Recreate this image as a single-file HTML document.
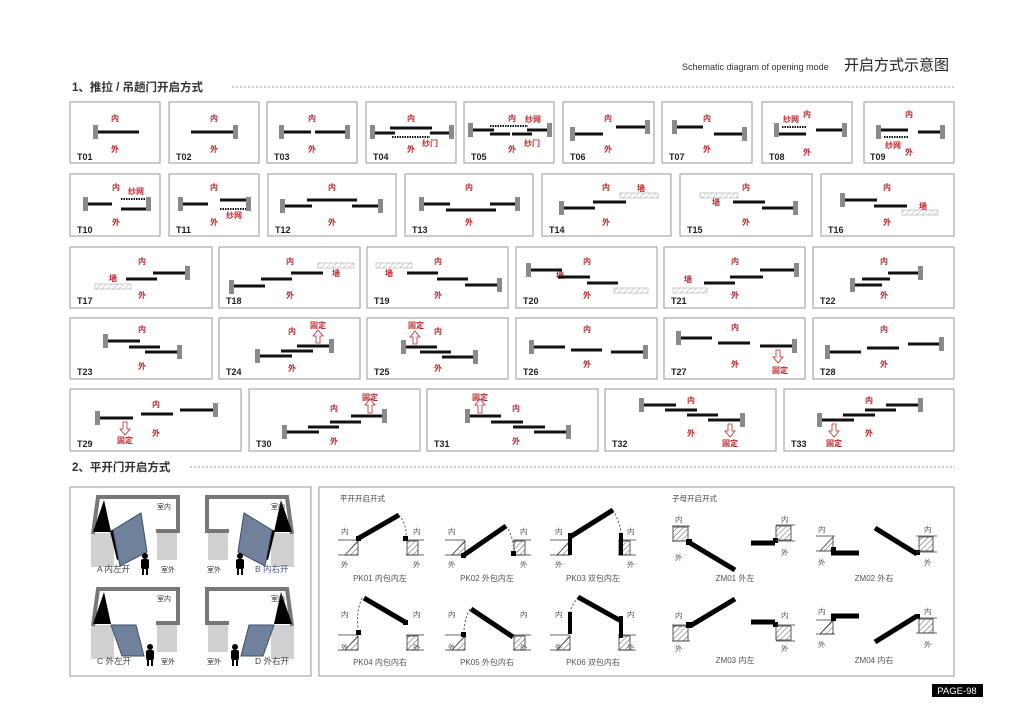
<!DOCTYPE html>
<html><head><meta charset="utf-8"><style>
html,body{margin:0;padding:0;background:#fff;width:1028px;height:726px;overflow:hidden}
svg{display:block;font-family:"Liberation Sans","Noto Sans CJK SC",sans-serif}
.b{fill:#fff;stroke:#9a9a9a;stroke-width:1}
.t{font-size:9px;font-weight:bold;fill:#222}
.r{font-size:8px;font-weight:bold;fill:#c0272d;text-anchor:middle}
.w{fill:#8a8a8a}
.l{stroke:#111;stroke-width:3}
.h{fill:url(#hp);stroke:#aaa;stroke-width:.6}
.g{font-size:8px;fill:#555;text-anchor:middle}
.s{font-size:7.5px;fill:#444}
.d{stroke:#000;stroke-width:5}
.dt{fill:none;stroke:#555;stroke-width:1;stroke-dasharray:2 2}
.hb{fill:url(#hp2);stroke:#333;stroke-width:.8}
</style></head><body>
<svg width="1028" height="726" viewBox="0 0 1028 726">
<defs>
<pattern id="hp" width="4" height="4" patternUnits="userSpaceOnUse" patternTransform="rotate(45)"><line x1="0" y1="0" x2="0" y2="4" stroke="#aaa" stroke-width="1"/></pattern>
<pattern id="hp2" width="4" height="4" patternUnits="userSpaceOnUse" patternTransform="rotate(45)"><line x1="0" y1="0" x2="0" y2="4" stroke="#333" stroke-width="0.8"/></pattern>
</defs>
<text x="682" y="70" font-size="9" fill="#333">Schematic diagram of opening mode</text>
<text x="844" y="70" font-size="15" fill="#222">开启方式示意图</text>
<text x="72" y="91" font-size="11.5" font-weight="bold" fill="#333">1、推拉 / 吊趟门开启方式</text>
<line x1="232" y1="87" x2="955" y2="87" stroke="#999" stroke-dasharray="2 2"/>

<!-- Row 1 -->
<g>
<rect class="b" x="70" y="102" width="90" height="61"/><rect class="b" x="169" y="102" width="90" height="61"/><rect class="b" x="267" y="102" width="90" height="61"/><rect class="b" x="366" y="102" width="90" height="61"/><rect class="b" x="464" y="102" width="90" height="61"/><rect class="b" x="563" y="102" width="91" height="61"/><rect class="b" x="662" y="102" width="90" height="61"/><rect class="b" x="762" y="102" width="90" height="61"/><rect class="b" x="864" y="102" width="90" height="61"/>
<text class="t" x="77" y="160">T01</text><text class="t" x="176" y="160">T02</text><text class="t" x="274" y="160">T03</text><text class="t" x="373" y="160">T04</text><text class="t" x="471" y="160">T05</text><text class="t" x="570" y="160">T06</text><text class="t" x="669" y="160">T07</text><text class="t" x="769" y="160">T08</text><text class="t" x="870" y="160">T09</text>
<text class="r" x="115" y="121">内</text><text class="r" x="115" y="152">外</text>
<text class="r" x="214" y="121">内</text><text class="r" x="214" y="152">外</text>
<text class="r" x="312" y="121">内</text><text class="r" x="312" y="152">外</text>
<text class="r" x="411" y="121">内</text><text class="r" x="411" y="152">外</text><text class="r" x="430" y="146">纱门</text>
<text class="r" x="512" y="121">内</text><text class="r" x="512" y="152">外</text><text class="r" x="533" y="122">纱网</text><text class="r" x="532" y="146">纱门</text>
<text class="r" x="608" y="121">内</text><text class="r" x="608" y="152">外</text>
<text class="r" x="707" y="121">内</text><text class="r" x="707" y="152">外</text>
<text class="r" x="807" y="117">内</text><text class="r" x="807" y="155">外</text><text class="r" x="791" y="122">纱网</text>
<text class="r" x="909" y="117">内</text><text class="r" x="909" y="155">外</text><text class="r" x="893" y="148">纱网</text>
<rect class="w" x="93" y="125" width="5" height="14"/><line class="l" x1="98" y1="132" x2="139" y2="132"/>
<rect class="w" x="233" y="125" width="5" height="14"/><line class="l" x1="191" y1="132" x2="233" y2="132"/>
<rect class="w" x="279" y="125" width="5" height="14"/><rect class="w" x="345" y="125" width="5" height="14"/><line class="l" x1="284" y1="132" x2="311" y2="132"/><line class="l" x1="315" y1="132" x2="345" y2="132"/>
<rect class="w" x="370" y="125" width="5" height="14"/><rect class="w" x="449" y="125" width="5" height="14"/><line class="l" x1="375" y1="133" x2="395" y2="133"/><line class="l" x1="390" y1="128" x2="412" y2="128"/><line class="l" x1="412" y1="128" x2="432" y2="128"/><line class="l" x1="430" y1="133" x2="449" y2="133"/><line x1="392" y1="137" x2="430" y2="137" stroke="#111" stroke-width="2" stroke-dasharray="1.5 1"/>
<rect class="w" x="468" y="123" width="5" height="14"/><rect class="w" x="547" y="123" width="5" height="14"/><line class="l" x1="473" y1="130" x2="494" y2="130"/><line x1="490" y1="126" x2="528" y2="126" stroke="#111" stroke-width="2" stroke-dasharray="1.5 1"/><line class="l" x1="490" y1="134" x2="510" y2="134"/><line class="l" x1="512" y1="134" x2="532" y2="134"/><line class="l" x1="527" y1="130" x2="547" y2="130"/>
<rect class="w" x="570" y="127" width="5" height="14"/><line class="l" x1="575" y1="134" x2="603" y2="134"/><rect class="w" x="645" y="120" width="5" height="14"/><line class="l" x1="616" y1="127" x2="645" y2="127"/>
<rect class="w" x="672" y="120" width="5" height="14"/><line class="l" x1="677" y1="127" x2="703" y2="127"/><rect class="w" x="742" y="127" width="5" height="14"/><line class="l" x1="714" y1="134" x2="742" y2="134"/>
<rect class="w" x="774" y="123" width="5" height="14"/><line class="l" x1="779" y1="134" x2="806" y2="134"/><line x1="782" y1="127" x2="806" y2="127" stroke="#111" stroke-width="2" stroke-dasharray="1.5 1"/><rect class="w" x="842" y="123" width="5" height="14"/><line class="l" x1="816" y1="130" x2="842" y2="130"/>
<rect class="w" x="876" y="125" width="5" height="14"/><line class="l" x1="881" y1="130" x2="908" y2="130"/><line x1="884" y1="137" x2="908" y2="137" stroke="#111" stroke-width="2" stroke-dasharray="1.5 1"/><rect class="w" x="940" y="125" width="5" height="14"/><line class="l" x1="918" y1="132" x2="940" y2="132"/>
</g>

<!-- Row 2 -->
<g>
<rect class="b" x="70" y="174" width="90" height="62"/><rect class="b" x="169" y="174" width="90" height="62"/><rect class="b" x="268" y="174" width="128" height="62"/><rect class="b" x="405" y="174" width="128" height="62"/><rect class="b" x="542" y="174" width="129" height="62"/><rect class="b" x="680" y="174" width="132" height="62"/><rect class="b" x="821" y="174" width="133" height="62"/>
<text class="t" x="77" y="233">T10</text><text class="t" x="176" y="233">T11</text><text class="t" x="275" y="233">T12</text><text class="t" x="412" y="233">T13</text><text class="t" x="549" y="233">T14</text><text class="t" x="687" y="233">T15</text><text class="t" x="828" y="233">T16</text>
<text class="r" x="116" y="190">内</text><text class="r" x="116" y="225">外</text><text class="r" x="136" y="194">纱网</text>
<text class="r" x="214" y="190">内</text><text class="r" x="214" y="225">外</text><text class="r" x="234" y="218">纱网</text>
<text class="r" x="332" y="190">内</text><text class="r" x="332" y="225">外</text>
<text class="r" x="469" y="190">内</text><text class="r" x="469" y="225">外</text>
<text class="r" x="606" y="190">内</text><text class="r" x="606" y="225">外</text><text class="r" x="641" y="191">墙</text>
<text class="r" x="746" y="190">内</text><text class="r" x="746" y="225">外</text><text class="r" x="716" y="205">墙</text>
<text class="r" x="887" y="190">内</text><text class="r" x="887" y="225">外</text><text class="r" x="923" y="209">墙</text>
<rect class="w" x="83" y="197" width="5" height="14"/><line class="l" x1="88" y1="204" x2="112" y2="204"/><line x1="121" y1="199" x2="146" y2="199" stroke="#111" stroke-width="2" stroke-dasharray="1.5 1"/><line class="l" x1="121" y1="209" x2="146" y2="209"/><rect class="w" x="146" y="197" width="5" height="14"/>
<rect class="w" x="178" y="197" width="5" height="14"/><line class="l" x1="183" y1="204" x2="208" y2="204"/><line class="l" x1="220" y1="200" x2="246" y2="200"/><line x1="220" y1="209" x2="246" y2="209" stroke="#111" stroke-width="2" stroke-dasharray="1.5 1"/><rect class="w" x="246" y="197" width="5" height="14"/>
<rect class="w" x="280" y="199" width="5" height="14"/><line class="l" x1="285" y1="206" x2="312" y2="206"/><line class="l" x1="307" y1="200" x2="357" y2="200"/><line class="l" x1="352" y1="206" x2="378" y2="206"/><rect class="w" x="378" y="199" width="5" height="14"/>
<rect class="w" x="419" y="197" width="5" height="14"/><line class="l" x1="424" y1="204" x2="450" y2="204"/><line class="l" x1="446" y1="210" x2="496" y2="210"/><line class="l" x1="490" y1="204" x2="515" y2="204"/><rect class="w" x="515" y="197" width="5" height="14"/>
<rect class="w" x="559" y="201" width="5" height="14"/><line class="l" x1="564" y1="208" x2="595" y2="208"/><line class="l" x1="593" y1="202" x2="626" y2="202"/><rect class="h" x="620" y="193" width="38" height="5"/>
<rect class="h" x="700" y="193" width="38" height="5"/><line class="l" x1="733" y1="202" x2="765" y2="202"/><line class="l" x1="762" y1="208" x2="793" y2="208"/><rect class="w" x="793" y="201" width="5" height="14"/>
<rect class="w" x="840" y="193" width="5" height="14"/><line class="l" x1="845" y1="200" x2="877" y2="200"/><line class="l" x1="874" y1="206" x2="907" y2="206"/><rect class="h" x="902" y="210" width="36" height="5"/>
</g>

<!-- Row 3 -->
<g>
<rect class="b" x="70" y="247" width="142" height="61"/><rect class="b" x="219" y="247" width="141" height="61"/><rect class="b" x="367" y="247" width="141" height="61"/><rect class="b" x="516" y="247" width="141" height="61"/><rect class="b" x="664" y="247" width="141" height="61"/><rect class="b" x="813" y="247" width="141" height="61"/>
<text class="t" x="77" y="304">T17</text><text class="t" x="226" y="304">T18</text><text class="t" x="374" y="304">T19</text><text class="t" x="523" y="304">T20</text><text class="t" x="671" y="304">T21</text><text class="t" x="820" y="304">T22</text>
<text class="r" x="142" y="264">内</text><text class="r" x="142" y="298">外</text><text class="r" x="113" y="281">墙</text>
<text class="r" x="290" y="264">内</text><text class="r" x="290" y="298">外</text><text class="r" x="336" y="276">墙</text>
<text class="r" x="438" y="264">内</text><text class="r" x="438" y="298">外</text><text class="r" x="389" y="276">墙</text>
<text class="r" x="587" y="264">内</text><text class="r" x="587" y="298">外</text><text class="r" x="560" y="278">墙</text>
<text class="r" x="735" y="264">内</text><text class="r" x="735" y="298">外</text><text class="r" x="688" y="282">墙</text>
<text class="r" x="884" y="264">内</text><text class="r" x="884" y="298">外</text>
<rect class="h" x="95" y="284" width="36" height="5"/><line class="l" x1="126" y1="279" x2="157" y2="279"/><line class="l" x1="153" y1="273" x2="185" y2="273"/><rect class="w" x="185" y="266" width="5" height="14"/>
<rect class="w" x="229" y="280" width="5" height="14"/><line class="l" x1="234" y1="286" x2="265" y2="286"/><line class="l" x1="261" y1="279" x2="292" y2="279"/><line class="l" x1="291" y1="273" x2="323" y2="273"/><rect class="h" x="318" y="263" width="36" height="5"/>
<rect class="h" x="376" y="263" width="36" height="5"/><line class="l" x1="407" y1="273" x2="438" y2="273"/><line class="l" x1="437" y1="279" x2="468" y2="279"/><line class="l" x1="465" y1="285" x2="497" y2="285"/><rect class="w" x="497" y="278" width="5" height="14"/>
<rect class="w" x="526" y="263" width="5" height="14"/><line class="l" x1="531" y1="270" x2="562" y2="270"/><line class="l" x1="558" y1="277" x2="590" y2="277"/><line class="l" x1="587" y1="283" x2="618" y2="283"/><rect class="h" x="614" y="288" width="34" height="5"/>
<rect class="h" x="673" y="288" width="34" height="5"/><line class="l" x1="704" y1="283" x2="735" y2="283"/><line class="l" x1="730" y1="277" x2="763" y2="277"/><line class="l" x1="760" y1="270" x2="794" y2="270"/><rect class="w" x="794" y="263" width="5" height="14"/>
<rect class="w" x="850" y="278" width="5" height="14"/><line class="l" x1="855" y1="285" x2="882" y2="285"/><line class="l" x1="862" y1="279" x2="890" y2="279"/><line class="l" x1="888" y1="273" x2="918" y2="273"/><rect class="w" x="918" y="266" width="5" height="14"/>
</g>

<!-- Row 4 -->
<g>
<rect class="b" x="70" y="318" width="142" height="61"/><rect class="b" x="219" y="318" width="141" height="61"/><rect class="b" x="367" y="318" width="141" height="61"/><rect class="b" x="516" y="318" width="141" height="61"/><rect class="b" x="664" y="318" width="141" height="61"/><rect class="b" x="813" y="318" width="141" height="61"/>
<text class="t" x="77" y="375">T23</text><text class="t" x="226" y="375">T24</text><text class="t" x="374" y="375">T25</text><text class="t" x="523" y="375">T26</text><text class="t" x="671" y="375">T27</text><text class="t" x="820" y="375">T28</text>
<text class="r" x="142" y="332">内</text><text class="r" x="142" y="369">外</text>
<text class="r" x="292" y="334">内</text><text class="r" x="292" y="371">外</text><text class="r" x="318" y="328">固定</text>
<text class="r" x="438" y="334">内</text><text class="r" x="438" y="371">外</text><text class="r" x="416" y="328">固定</text>
<text class="r" x="587" y="332">内</text><text class="r" x="587" y="367">外</text>
<text class="r" x="735" y="330">内</text><text class="r" x="735" y="367">外</text><text class="r" x="780" y="373">固定</text>
<text class="r" x="884" y="332">内</text><text class="r" x="884" y="367">外</text>
<rect class="w" x="103" y="334" width="5" height="14"/><line class="l" x1="108" y1="341" x2="140" y2="341"/><line class="l" x1="129" y1="347" x2="160" y2="347"/><line class="l" x1="145" y1="352" x2="177" y2="352"/><rect class="w" x="177" y="345" width="5" height="14"/>
<rect class="w" x="255" y="349" width="5" height="14"/><line class="l" x1="260" y1="356" x2="292" y2="356"/><line class="l" x1="281" y1="351" x2="313" y2="351"/><line class="l" x1="297" y1="346" x2="329" y2="346"/><rect class="w" x="329" y="339" width="5" height="14"/><path d="M316 343V336h-3l5-6 5 6h-3v7z" fill="#fff" stroke="#c0272d" stroke-width=".8"/>
<rect class="w" x="401" y="340" width="5" height="14"/><line class="l" x1="406" y1="347" x2="437" y2="347"/><line class="l" x1="420" y1="352" x2="451" y2="352"/><line class="l" x1="442" y1="357" x2="473" y2="357"/><rect class="w" x="473" y="350" width="5" height="14"/><path d="M413 344V337h-3l5-6 5 6h-3v7z" fill="#fff" stroke="#c0272d" stroke-width=".8"/>
<rect class="w" x="529" y="340" width="5" height="14"/><line class="l" x1="534" y1="347" x2="565" y2="347"/><line class="l" x1="571" y1="350" x2="602" y2="350"/><line class="l" x1="611" y1="352" x2="643" y2="352"/><rect class="w" x="643" y="345" width="5" height="14"/>
<rect class="w" x="676" y="331" width="5" height="14"/><line class="l" x1="681" y1="338" x2="712" y2="338"/><line class="l" x1="718" y1="343" x2="750" y2="343"/><line class="l" x1="760" y1="346" x2="792" y2="346"/><rect class="w" x="792" y="339" width="5" height="14"/><path d="M776 350V357h-3l5 6 5-6h-3v-7z" fill="#fff" stroke="#c0272d" stroke-width=".8"/>
<rect class="w" x="825" y="345" width="5" height="14"/><line class="l" x1="830" y1="352" x2="861" y2="352"/><line class="l" x1="867" y1="348" x2="899" y2="348"/><line class="l" x1="908" y1="344" x2="939" y2="344"/><rect class="w" x="939" y="337" width="5" height="14"/>
</g>

<!-- Row 5 -->
<g>
<rect class="b" x="70" y="389" width="171" height="62"/><rect class="b" x="249" y="389" width="171" height="62"/><rect class="b" x="427" y="389" width="171" height="62"/><rect class="b" x="605" y="389" width="171" height="62"/><rect class="b" x="784" y="389" width="170" height="62"/>
<text class="t" x="77" y="447">T29</text><text class="t" x="256" y="447">T30</text><text class="t" x="434" y="447">T31</text><text class="t" x="612" y="447">T32</text><text class="t" x="791" y="447">T33</text>
<text class="r" x="156" y="407">内</text><text class="r" x="156" y="436">外</text><text class="r" x="125" y="443">固定</text>
<text class="r" x="334" y="411">内</text><text class="r" x="334" y="444">外</text><text class="r" x="370" y="400">固定</text>
<text class="r" x="516" y="411">内</text><text class="r" x="516" y="444">外</text><text class="r" x="480" y="400">固定</text>
<text class="r" x="691" y="403">内</text><text class="r" x="691" y="436">外</text><text class="r" x="730" y="446">固定</text>
<text class="r" x="869" y="403">内</text><text class="r" x="869" y="436">外</text><text class="r" x="834" y="446">固定</text>
<rect class="w" x="95" y="411" width="5" height="14"/><line class="l" x1="100" y1="418" x2="133" y2="418"/><line class="l" x1="141" y1="414" x2="173" y2="414"/><line class="l" x1="180" y1="410" x2="213" y2="410"/><rect class="w" x="213" y="403" width="5" height="14"/><path d="M123 422V429h-3l5 6 5-6h-3v-7z" fill="#fff" stroke="#c0272d" stroke-width=".8"/>
<rect class="w" x="282" y="425" width="5" height="14"/><line class="l" x1="287" y1="432" x2="319" y2="432"/><line class="l" x1="308" y1="427" x2="339" y2="427"/><line class="l" x1="330" y1="422" x2="361" y2="422"/><line class="l" x1="351" y1="416" x2="382" y2="416"/><rect class="w" x="382" y="409" width="5" height="14"/><path d="M368 413V405h-3l5-6 5 6h-3v8z" fill="#fff" stroke="#c0272d" stroke-width=".8"/>
<rect class="w" x="465" y="409" width="5" height="14"/><line class="l" x1="470" y1="416" x2="501" y2="416"/><line class="l" x1="491" y1="422" x2="523" y2="422"/><line class="l" x1="513" y1="427" x2="545" y2="427"/><line class="l" x1="534" y1="432" x2="566" y2="432"/><rect class="w" x="566" y="425" width="5" height="14"/><path d="M478 413V405h-3l5-6 5 6h-3v8z" fill="#fff" stroke="#c0272d" stroke-width=".8"/>
<rect class="w" x="639" y="398" width="5" height="14"/><line class="l" x1="644" y1="405" x2="676" y2="405"/><line class="l" x1="665" y1="410" x2="697" y2="410"/><line class="l" x1="687" y1="415" x2="718" y2="415"/><line class="l" x1="708" y1="420" x2="740" y2="420"/><rect class="w" x="740" y="413" width="5" height="14"/><path d="M728 424V431h-3l5 6 5-6h-3v-7z" fill="#fff" stroke="#c0272d" stroke-width=".8"/>
<rect class="w" x="817" y="413" width="5" height="14"/><line class="l" x1="822" y1="420" x2="854" y2="420"/><line class="l" x1="843" y1="415" x2="875" y2="415"/><line class="l" x1="865" y1="410" x2="896" y2="410"/><line class="l" x1="886" y1="405" x2="918" y2="405"/><rect class="w" x="918" y="398" width="5" height="14"/><path d="M832 424V431h-3l5 6 5-6h-3v-7z" fill="#fff" stroke="#c0272d" stroke-width=".8"/>
</g>

<text x="72" y="471" font-size="11.5" font-weight="bold" fill="#333">2、平开门开启方式</text>
<line x1="190" y1="467" x2="955" y2="467" stroke="#999" stroke-dasharray="2 2"/>

<!-- left box -->
<rect class="b" x="70" y="487" width="241" height="189"/>
<g id="qa">
<rect x="91" y="533" width="23" height="34" fill="#d0d0d0"/><rect x="157" y="530" width="20" height="30" fill="#d0d0d0"/>
<path d="M93 534 L98 497 L178 497 L178 531 L156 531" fill="none" stroke="#777" stroke-width="4"/>
<path d="M93 532 L104 500 L111 532 Z" fill="#000"/>
<path d="M110 531 L117 560 L122 558 L114 529 Z" fill="#000"/>
</g>
<g transform="translate(0,0)"><path d="M113 530 L141 513 L147 552 L120 566 Z" fill="#6f819b" stroke="#3f4f68" stroke-width="1"/></g>
<g transform="translate(385,0) scale(-1,1)">
<rect x="91" y="533" width="23" height="34" fill="#d0d0d0"/><rect x="157" y="530" width="20" height="30" fill="#d0d0d0"/>
<path d="M93 534 L98 497 L178 497 L178 531 L156 531" fill="none" stroke="#777" stroke-width="4"/>
<path d="M93 532 L104 500 L111 532 Z" fill="#000"/>
<path d="M110 531 L117 560 L122 558 L114 529 Z" fill="#000"/>
<path d="M113 530 L141 513 L147 552 L120 566 Z" fill="#6f819b" stroke="#3f4f68" stroke-width="1"/>
</g>
<g transform="translate(0,92)">
<rect x="91" y="533" width="23" height="34" fill="#d0d0d0"/><rect x="157" y="530" width="20" height="30" fill="#d0d0d0"/>
<path d="M93 534 L98 497 L178 497 L178 531 L156 531" fill="none" stroke="#777" stroke-width="4"/>
<path d="M93 532 L104 500 L111 532 Z" fill="#000"/>
<path d="M111 533 L136 533 L144 564 L122 564 Z" fill="#6f819b" stroke="#3f4f68" stroke-width="1"/>
</g>
<g transform="translate(385,92) scale(-1,1)">
<rect x="91" y="533" width="23" height="34" fill="#d0d0d0"/><rect x="157" y="530" width="20" height="30" fill="#d0d0d0"/>
<path d="M93 534 L98 497 L178 497 L178 531 L156 531" fill="none" stroke="#777" stroke-width="4"/>
<path d="M93 532 L104 500 L111 532 Z" fill="#000"/>
<path d="M111 533 L136 533 L144 564 L122 564 Z" fill="#6f819b" stroke="#3f4f68" stroke-width="1"/>
</g>
<g fill="#000"><circle cx="145" cy="556" r="3"/><rect x="141" y="559" width="8" height="10" rx="2"/><rect x="142" y="568" width="2" height="7"/><rect x="146" y="568" width="2" height="7"/></g>
<g fill="#000"><circle cx="240" cy="556" r="3"/><rect x="236" y="559" width="8" height="10" rx="2"/><rect x="237" y="568" width="2" height="7"/><rect x="241" y="568" width="2" height="7"/></g>
<g fill="#000"><circle cx="150" cy="647" r="3"/><rect x="146" y="650" width="8" height="10" rx="2"/><rect x="147" y="659" width="2" height="7"/><rect x="151" y="659" width="2" height="7"/></g>
<g fill="#000"><circle cx="235" cy="647" r="3"/><rect x="231" y="650" width="8" height="10" rx="2"/><rect x="232" y="659" width="2" height="7"/><rect x="236" y="659" width="2" height="7"/></g>
<g font-size="7" fill="#333"><text x="157" y="509">室内</text><text x="271" y="509">室内</text><text x="157" y="601">室内</text><text x="271" y="601">室内</text>
<text x="161" y="572">室外</text><text x="207" y="572">室外</text><text x="161" y="664">室外</text><text x="207" y="664">室外</text></g>
<g font-size="8.5" fill="#444"><text x="97" y="572">A 内左开</text><text x="255" y="572" fill="#4a5f8a">B 内右开</text><text x="97" y="664">C 外左开</text><text x="255" y="664">D 外右开</text></g>

<!-- right box -->
<rect class="b" x="319" y="487" width="635" height="189"/>
<text class="s" x="340" y="501">平开开启开式</text><text class="s" x="672" y="501">子母开启开式</text>

<!-- PK01 -->
<g id="pk">
<line x1="338" y1="540" x2="358" y2="540" stroke="#333" stroke-width=".8"/><line x1="338" y1="555" x2="358" y2="555" stroke="#333" stroke-width=".8"/>
<path class="hb" d="M345 555 L358 541 L358 555 Z"/>
<line x1="406" y1="540" x2="424" y2="540" stroke="#333" stroke-width=".8"/><line x1="406" y1="555" x2="424" y2="555" stroke="#333" stroke-width=".8"/>
<rect class="hb" x="407" y="541" width="11" height="14"/>
</g>
<rect x="356" y="536" width="5" height="5" fill="#000"/><line class="d" x1="359" y1="538" x2="399" y2="515"/><path class="dt" d="M399 515 Q407 525 406 537"/><rect x="403" y="536" width="5" height="5" fill="#000"/>
<use href="#pk" x="107"/>
<rect x="461" y="553" width="5" height="5" fill="#000"/><line class="d" x1="464" y1="555" x2="506" y2="526"/><path class="dt" d="M506 526 Q514 538 514 552"/><rect x="511" y="551" width="5" height="5" fill="#000"/>
<use href="#pk" x="212"/>
<rect x="568" y="533" width="4" height="22" fill="#000"/><line class="d" x1="570" y1="537" x2="613" y2="510"/><path class="dt" d="M613 510 Q620 522 621 533"/><rect x="619" y="533" width="4" height="22" fill="#000"/>
<use href="#pk" y="95"/>
<rect x="356" y="630" width="5" height="5" fill="#000"/><line class="d" x1="364" y1="598" x2="405" y2="622"/><path class="dt" d="M362 598 Q356 612 358 629"/><rect x="403" y="620" width="5" height="5" fill="#000"/>
<use href="#pk" x="107" y="95"/>
<rect x="461" y="632" width="5" height="5" fill="#000"/><line class="d" x1="471" y1="609" x2="513" y2="637"/><path class="dt" d="M470 609 Q464 620 464 632"/>
<use href="#pk" x="212" y="95"/>
<rect x="568" y="612" width="4" height="22" fill="#000"/><line class="d" x1="578" y1="597" x2="621" y2="621"/><path class="dt" d="M578 597 Q570 608 570 613"/><rect x="619" y="616" width="4" height="22" fill="#000"/>
<g font-size="7.5" fill="#555"><text x="341" y="534">内</text><text x="341" y="567">外</text><text x="413" y="534">内</text><text x="413" y="567">外</text>
<text x="448" y="534">内</text><text x="448" y="567">外</text><text x="520" y="534">内</text><text x="520" y="567">外</text>
<text x="555" y="534">内</text><text x="555" y="567">外</text><text x="627" y="534">内</text><text x="627" y="567">外</text>
<text x="341" y="617">内</text><text x="341" y="650">外</text><text x="413" y="617">内</text><text x="413" y="650">外</text>
<text x="448" y="617">内</text><text x="448" y="650">外</text><text x="520" y="617">内</text><text x="520" y="650">外</text>
<text x="555" y="617">内</text><text x="555" y="650">外</text><text x="627" y="617">内</text><text x="627" y="650">外</text>
<text x="675" y="522">内</text><text x="675" y="560">外</text><text x="781" y="522">内</text><text x="781" y="555">外</text>
<text x="818" y="532">内</text><text x="818" y="565">外</text><text x="924" y="532">内</text><text x="924" y="565">外</text>
<text x="675" y="618">内</text><text x="675" y="651">外</text><text x="781" y="618">内</text><text x="781" y="651">外</text>
<text x="818" y="614">内</text><text x="818" y="647">外</text><text x="924" y="614">内</text><text x="924" y="647">外</text></g>
<g class="g"><text x="380" y="581">PK01 内包内左</text><text x="487" y="581">PK02 外包内左</text><text x="593" y="581">PK03 双包内左</text><text x="735" y="581">ZM01 外左</text><text x="874" y="581">ZM02 外右</text>
<text x="380" y="665">PK04 内包内右</text><text x="487" y="665">PK05 外包内右</text><text x="593" y="665">PK06 双包内右</text><text x="735" y="663">ZM03 内左</text><text x="874" y="663">ZM04 内右</text></g>
<!-- ZM01 -->
<line x1="672" y1="526" x2="690" y2="526" stroke="#333" stroke-width=".8"/><line x1="672" y1="541" x2="690" y2="541" stroke="#333" stroke-width=".8"/><rect class="hb" x="673" y="527" width="15" height="14"/>
<rect x="686" y="539" width="6" height="6" fill="#000"/><line class="d" x1="690" y1="543" x2="735" y2="570"/>
<line class="d" x1="751" y1="543" x2="775" y2="543"/><rect x="773" y="538" width="5" height="5" fill="#000"/><rect class="hb" x="776" y="526" width="15" height="14"/><line x1="776" y1="525" x2="795" y2="525" stroke="#333" stroke-width=".8"/><line x1="776" y1="541" x2="795" y2="541" stroke="#333" stroke-width=".8"/>
<!-- ZM02 -->
<line x1="816" y1="536" x2="835" y2="536" stroke="#333" stroke-width=".8"/><line x1="816" y1="551" x2="835" y2="551" stroke="#333" stroke-width=".8"/><path class="hb" d="M820 551 L833 537 L833 551 Z"/>
<rect x="831" y="547" width="5" height="5" fill="#000"/><line class="d" x1="831" y1="553" x2="859" y2="553"/>
<line class="d" x1="875" y1="528" x2="917" y2="554"/><rect x="915" y="550" width="5" height="5" fill="#000"/><rect class="hb" x="919" y="537" width="14" height="14"/><line x1="916" y1="536" x2="937" y2="536" stroke="#333" stroke-width=".8"/><line x1="916" y1="552" x2="937" y2="552" stroke="#333" stroke-width=".8"/>
<!-- ZM03 -->
<line x1="672" y1="625" x2="690" y2="625" stroke="#333" stroke-width=".8"/><line x1="672" y1="641" x2="690" y2="641" stroke="#333" stroke-width=".8"/><rect class="hb" x="673" y="626" width="15" height="15"/>
<rect x="686" y="622" width="6" height="6" fill="#000"/><line class="d" x1="690" y1="626" x2="735" y2="599"/>
<line class="d" x1="751" y1="622" x2="775" y2="622"/><rect x="773" y="622" width="5" height="5" fill="#000"/><rect class="hb" x="776" y="626" width="15" height="14"/><line x1="776" y1="625" x2="795" y2="625" stroke="#333" stroke-width=".8"/><line x1="776" y1="641" x2="795" y2="641" stroke="#333" stroke-width=".8"/>
<!-- ZM04 -->
<line x1="816" y1="620" x2="835" y2="620" stroke="#333" stroke-width=".8"/><line x1="816" y1="634" x2="835" y2="634" stroke="#333" stroke-width=".8"/><path class="hb" d="M820 634 L833 620 L833 634 Z"/>
<rect x="831" y="616" width="5" height="5" fill="#000"/><line class="d" x1="831" y1="616" x2="859" y2="616"/>
<line class="d" x1="875" y1="642" x2="917" y2="616"/><rect x="915" y="614" width="5" height="5" fill="#000"/><rect class="hb" x="919" y="619" width="14" height="14"/><line x1="916" y1="618" x2="937" y2="618" stroke="#333" stroke-width=".8"/><line x1="916" y1="633" x2="937" y2="633" stroke="#333" stroke-width=".8"/>

<rect x="932" y="684" width="51" height="13" fill="#000"/>
<text x="957" y="694" font-size="9.5" fill="#fff" text-anchor="middle">PAGE-98</text>
</svg>
</body></html>
